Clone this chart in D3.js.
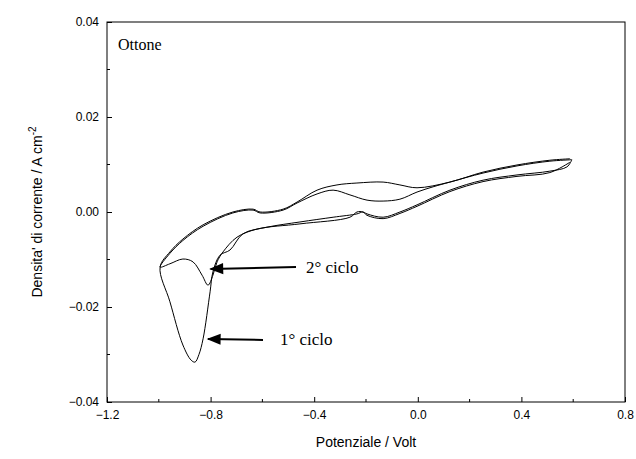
<!DOCTYPE html>
<html><head><meta charset="utf-8">
<script src="https://cdn.jsdelivr.net/npm/d3@7"></script>
<style>body{margin:0;background:#fff}svg{display:block}</style>
</head><body><div id="chart"></div>
<script>
// cycle 1: cathodic sweep (upper branch) then anodic return (lower branch)
const cycle1 = [
	[0.588,0.0112],[0.510,0.0109],[0.383,0.0099],[0.252,0.0084],[0.124,0.0063],[-0.003,0.0051],
	[-0.069,0.0057],[-0.134,0.0063],[-0.235,0.0061],[-0.312,0.0057],[-0.389,0.0046],[-0.466,0.0021],
	[-0.520,0.0006],[-0.609,0.0],[-0.636,0.0006],[-0.714,0.0],[-0.829,-0.0027],[-0.907,-0.0057],
	[-0.957,-0.0084],[-0.995,-0.0116],
	[-0.957,-0.0189],[-0.907,-0.028],[-0.875,-0.0312],[-0.860,-0.0316],[-0.845,-0.030],[-0.829,-0.0267],[-0.802,-0.0168],
	[-0.791,-0.0126],[-0.764,-0.0091],[-0.725,-0.008],[-0.675,-0.0046],[-0.582,-0.0032],[-0.455,-0.0021],
	[-0.327,-0.0011],[-0.235,-0.0004],[-0.212,0.0],[-0.196,-0.0004],[-0.134,-0.0011],[-0.069,0.0],
	[-0.003,0.0015],[0.124,0.0046],[0.252,0.0067],[0.383,0.0078],[0.510,0.0086],[0.576,0.0095],[0.595,0.011]
]
const cycle2 = [
	[0.595,0.011],[0.510,0.0107],[0.383,0.0097],[0.252,0.0082],[0.124,0.0063],[0.059,0.0053],[-0.003,0.0042],
	[-0.069,0.0027],[-0.134,0.0023],[-0.196,0.0025],[-0.262,0.0036],[-0.327,0.0046],[-0.389,0.0038],
	[-0.466,0.0019],[-0.520,0.0004],[-0.609,-0.0002],[-0.636,0.0004],[-0.714,-0.0002],[-0.829,-0.0030],
	[-0.907,-0.0060],[-0.957,-0.0087],[-0.995,-0.0116],
	[-0.957,-0.0109],[-0.907,-0.0099],[-0.868,-0.0105],[-0.833,-0.0133],[-0.810,-0.0154],[-0.791,-0.0133],
	[-0.775,-0.0105],[-0.752,-0.0084],[-0.698,-0.0053],[-0.621,-0.0036],[-0.455,-0.0025],[-0.262,-0.0011],
	[-0.235,0.0],[-0.212,0.0],[-0.196,-0.0007],[-0.134,-0.0014],[-0.069,-0.0003],[-0.003,0.0012],
	[0.124,0.0043],[0.252,0.0064],[0.383,0.0075],[0.510,0.0083],[0.588,0.0105]
]
const xTicks = [-1.2,-0.8,-0.4,0.0,0.4,0.8]
const yTicks = [-0.04,-0.02,0.00,0.02,0.04]

const W = 636, H = 459
const m = {left:107, right:11, top:22, bottom:57}
const svg = d3.select("#chart").append("svg").attr("width",W).attr("height",H)
const x = d3.scaleLinear().domain([-1.2,0.8]).range([m.left, W-m.right])
const y = d3.scaleLinear().domain([-0.04,0.04]).range([H-m.bottom, m.top])

// frame
svg.append("rect").attr("x",m.left).attr("y",m.top)
	.attr("width",W-m.left-m.right).attr("height",H-m.top-m.bottom)
	.attr("fill","none").attr("stroke","#000").attr("stroke-width",1)

// minor ticks
const xMinor = d3.range(-1.0,0.8,0.4)
const yMinor = [-0.03,-0.01,0.01,0.03]
xMinor.forEach(v => svg.append("line").attr("x1",x(v)).attr("x2",x(v))
	.attr("y1",y(-0.04)).attr("y2",y(-0.04)-3).attr("stroke","#000"))
yMinor.forEach(v => svg.append("line").attr("y1",y(v)).attr("y2",y(v))
	.attr("x1",x(-1.2)).attr("x2",x(-1.2)+3).attr("stroke","#000"))

const xAxis = svg.append("g").attr("transform",`translate(0,${H-m.bottom})`)
	.call(d3.axisBottom(x).tickValues(xTicks).tickSizeInner(-5).tickSizeOuter(0).tickPadding(8).tickFormat(d3.format(".1f")))
const yAxis = svg.append("g").attr("transform",`translate(${m.left},0)`)
	.call(d3.axisLeft(y).tickValues(yTicks).tickSizeInner(-5).tickSizeOuter(0).tickPadding(8).tickFormat(d3.format(".2f")))
;[xAxis,yAxis].forEach(a => {
	a.select(".domain").remove()
	a.selectAll("text").attr("font-family","Liberation Sans, Arial").attr("font-size",12).attr("fill","#000")
})

const line = d3.line().x(d => x(d[0])).y(d => y(d[1])).curve(d3.curveCatmullRom.alpha(0.5))
;[cycle1,cycle2].forEach(c => svg.append("path").datum(c).attr("d",line)
	.attr("fill","none").attr("stroke","#000").attr("stroke-width",1))

// titles
svg.append("text").attr("x",(m.left+W-m.right)/2).attr("y",H-12).attr("text-anchor","middle")
	.attr("font-family","Liberation Sans, Arial").attr("font-size",14).text("Potenziale / Volt")
const yt = svg.append("text").attr("transform",`translate(42,${(m.top+H-m.bottom)/2}) rotate(-90)`)
	.attr("text-anchor","middle").attr("font-family","Liberation Sans, Arial").attr("font-size",14)
yt.append("tspan").text("Densita' di corrente / A cm")
yt.append("tspan").attr("dy",-6).attr("font-size",10).text("-2")

const serif = "Liberation Serif, Times New Roman"
svg.append("text").attr("x",118).attr("y",50).attr("font-family",serif).attr("font-size",16).text("Ottone")
svg.append("text").attr("x",306).attr("y",273).attr("font-family",serif).attr("font-size",17).text("2° ciclo")
svg.append("text").attr("x",280).attr("y",345).attr("font-family",serif).attr("font-size",17).text("1° ciclo")

svg.append("defs").append("marker").attr("id","ah").attr("viewBox","0 0 10 10").attr("refX",9).attr("refY",5)
	.attr("markerWidth",9).attr("markerHeight",7).attr("orient","auto")
	.append("path").attr("d","M0,1L10,5L0,9Z").attr("fill","#000")
const arrows = [[[296,267],[x(-0.8),269]],[[263,340],[x(-0.81),339]]]
arrows.forEach(a => svg.append("line").attr("x1",a[0][0]).attr("y1",a[0][1]).attr("x2",a[1][0]).attr("y2",a[1][1])
	.attr("stroke","#000").attr("stroke-width",2).attr("marker-end","url(#ah)"))
</script></body></html>
